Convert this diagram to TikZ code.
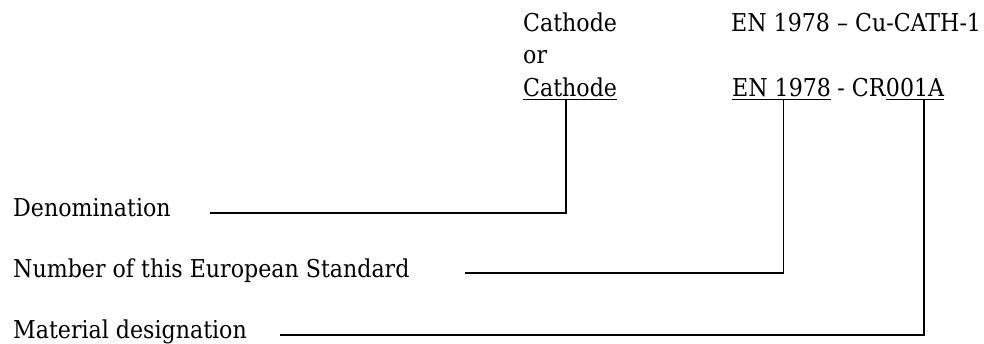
\documentclass[tikz,border=0pt]{standalone}
\usepackage{fontspec}
\setmainfont{DejaVu Serif Condensed}
\begin{document}
\begin{tikzpicture}[x=1pt,y=-1pt,
  lbl/.style={inner sep=0pt,anchor=base west,font=\fontsize{24.6}{33}\selectfont},
  conn/.style={line width=1.6pt,line cap=rect},
  ul/.style={line width=1.1pt}]
\useasboundingbox (0,0) rectangle (984,344);
% top labels
\node[lbl] (c1) at (523,32) {Cathode};
\node[lbl] (or) at (523,64) {or};
\node[lbl] (c2) at (523,97) {Cathode};
\node[lbl] (en1) at (731,32) {EN 1978 – Cu-CATH-1};
\node[lbl] (en) at (732,97) {EN 1978};
\node[lbl] (cr) at ([xshift=6pt]en.base east) {- CR};
\node[lbl] (code) at (cr.base east) {001A};
% underlines
\draw[ul] ([yshift=-2.5pt]c2.base west) -- ([yshift=-2.5pt]c2.base east);
\draw[ul] ([yshift=-2.5pt]en.base west) -- ([yshift=-2.5pt]en.base east);
\draw[ul] ([yshift=-2.5pt]code.base west) -- ([yshift=-2.5pt]code.base east);
% left labels
\node[lbl] (den) at (13,217) {Denomination};
\node[lbl] (nos) at (13,278) {Number of this European Standard};
\node[lbl] (mat) at (13,338) {Material designation};
% connectors
\draw[conn] ([xshift=40pt,yshift=4pt]den.base east) -| ([xshift=-4pt,yshift=-2.5pt]c2.base);
\draw[conn] ([xshift=56pt,yshift=5pt]nos.base east) -| ([xshift=2pt,yshift=-2.5pt]en.base);
\draw[conn] ([xshift=34pt,yshift=3pt]mat.base east) -| ([xshift=9pt,yshift=-4pt]code.base);
\end{tikzpicture}
\end{document}
